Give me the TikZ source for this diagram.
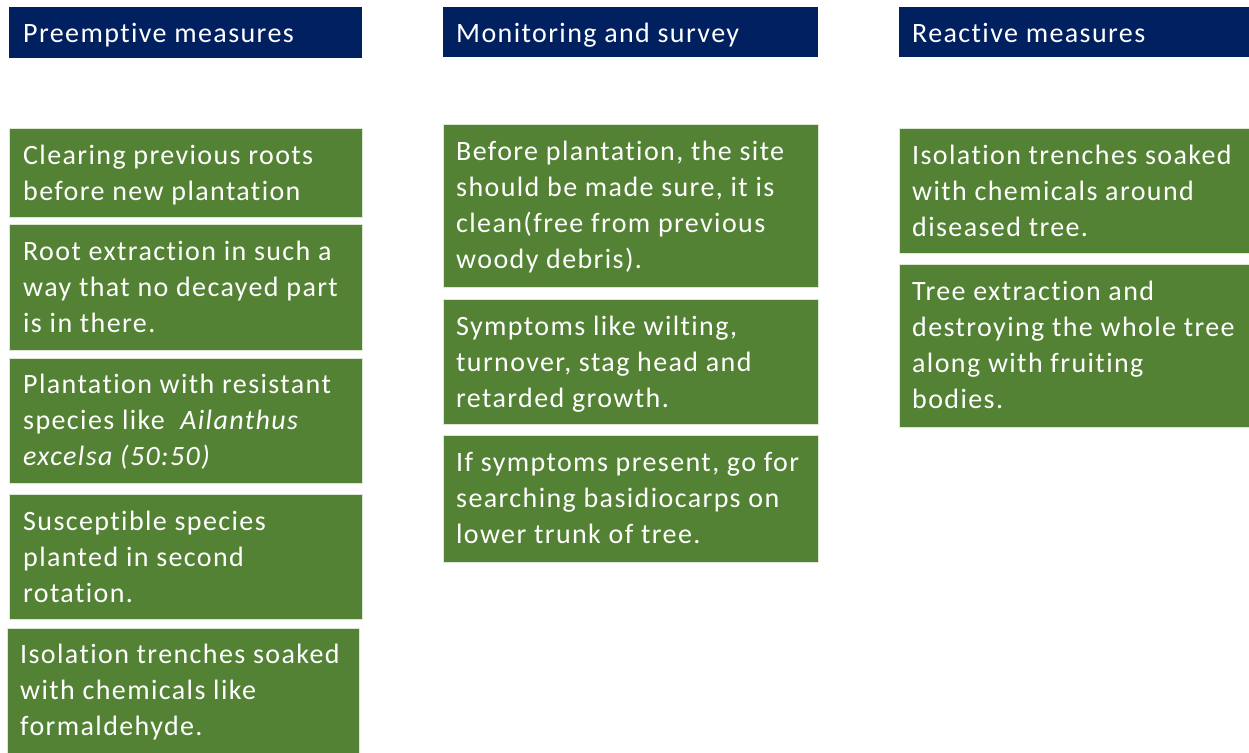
\documentclass[tikz,border=0pt]{standalone}
\usepackage{fontspec}
\setmainfont{Carlito}[LetterSpace=5.0,Ligatures=NoCommon]
\definecolor{navy}{HTML}{002060}
\definecolor{leaf}{HTML}{548235}
\begin{document}
\begin{tikzpicture}[x=1pt,y=-1pt,
  hbox/.style={fill=navy, draw=none, inner sep=0pt, anchor=north west},
  gbox/.style={fill=leaf, draw=white!80!leaf, line width=0.6pt, inner sep=0pt, anchor=north west},
  lbl/.style={text=white, inner sep=0pt, anchor=base west, font=\fontsize{28}{36}\selectfont}]
\useasboundingbox[fill=white] (0,0) rectangle (1249,752);
% headers
\node[hbox, minimum width=353pt, minimum height=51pt] (h1) at (9,7) {};
\node[hbox, minimum width=375pt, minimum height=50pt] (h2) at (443,7) {};
\node[hbox, minimum width=350pt, minimum height=50pt] (h3) at (899,7) {};
\node[lbl] (h1t) at ([xshift=14pt,yshift=-36pt]h1.north west) {Preemptive measures};
\node[lbl] (h2t) at ([xshift=13pt,yshift=-36pt]h2.north west) {Monitoring and survey};
\node[lbl] (h3t) at ([xshift=13pt,yshift=-36pt]h3.north west) {Reactive measures};
% column 1
\node[gbox, minimum width=353pt, minimum height=89pt] (p1) at (9,128) {};
\node[gbox, minimum width=353pt, minimum height=126pt] (p2) at (9,224) {};
\node[gbox, minimum width=353pt, minimum height=125pt] (p3) at (9,358) {};
\node[gbox, minimum width=353pt, minimum height=125pt] (p4) at (9,494) {};
\node[gbox, minimum width=352pt, minimum height=128pt] (p5) at (7,628) {};
\node[lbl] (p1t) at ([xshift=14pt,yshift=-36pt]p1.north west) {\parbox[t]{340pt}{Clearing previous roots\\before new plantation}};
\node[lbl] (p2t) at ([xshift=14pt,yshift=-36pt]p2.north west) {\parbox[t]{340pt}{Root extraction in such a\\way that no decayed part\\is in there.}};
\node[lbl] (p3t) at ([xshift=14pt,yshift=-35pt]p3.north west) {\parbox[t]{340pt}{Plantation with resistant\\species like\ \ \textit{Ailanthus}\\\textit{excelsa (50:50)}}};
\node[lbl] (p4t) at ([xshift=14pt,yshift=-36pt]p4.north west) {\parbox[t]{340pt}{Susceptible species\\planted in second\\rotation.}};
\node[lbl] (p5t) at ([xshift=13pt,yshift=-35pt]p5.north west) {\parbox[t]{340pt}{Isolation trenches soaked\\with chemicals like\\formaldehyde.}};
% column 2
\node[gbox, minimum width=375pt, minimum height=163pt] (m1) at (443,124) {};
\node[gbox, minimum width=375pt, minimum height=125pt] (m2) at (443,299) {};
\node[gbox, minimum width=375pt, minimum height=127pt] (m3) at (443,435) {};
\node[lbl] (m1t) at ([xshift=13pt,yshift=-36pt]m1.north west) {\parbox[t]{360pt}{Before plantation, the site\\should be made sure, it is\\clean(free from previous\\woody debris).}};
\node[lbl] (m2t) at ([xshift=13pt,yshift=-36pt]m2.north west) {\parbox[t]{360pt}{Symptoms like wilting,\\turnover, stag head and\\retarded growth.}};
\node[lbl] (m3t) at ([xshift=13pt,yshift=-36pt]m3.north west) {\parbox[t]{360pt}{If symptoms present, go for\\searching basidiocarps on\\lower trunk of tree.}};
% column 3
\node[gbox, minimum width=351pt, minimum height=125pt] (r1) at (899,128) {};
\node[gbox, minimum width=351pt, minimum height=163pt] (r2) at (899,264) {};
\node[lbl] (r1t) at ([xshift=13pt,yshift=-36pt]r1.north west) {\parbox[t]{340pt}{Isolation trenches soaked\\with chemicals around\\diseased tree.}};
\node[lbl] (r2t) at ([xshift=13pt,yshift=-36pt]r2.north west) {\parbox[t]{340pt}{Tree extraction and\\destroying the whole tree\\along with fruiting\\bodies.}};
\end{tikzpicture}
\end{document}
